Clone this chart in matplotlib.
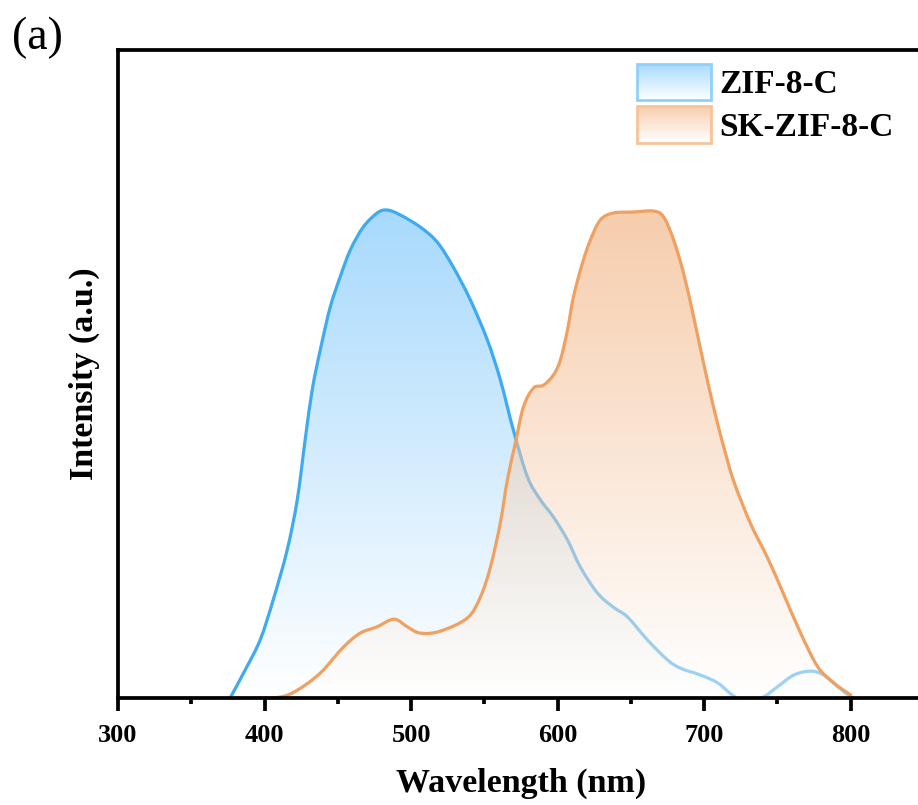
import numpy as np
import matplotlib.pyplot as plt
from matplotlib.patches import Patch, Rectangle, PathPatch
from matplotlib.path import Path
from matplotlib.legend_handler import HandlerBase
from matplotlib.ticker import MultipleLocator

# ZIF-8-C emission
zif_wl = [376.5, 386.7, 397.0, 405.9, 415.4, 422.3, 427.7, 432.5, 438.0, 444.8,
          451.6, 458.5, 467.3, 476.9, 483.7, 492.6, 506.3, 517.9, 528.8, 540.4,
          552.0, 560.9, 569.8, 579.4, 588.3, 597.1, 606.7, 615.6, 627.2, 638.1,
          647.7, 661.3, 675.0, 683.9, 697.5, 709.2, 722.8, 738.5, 750.0, 761.1,
          772.7, 781.6, 791.1, 800.0]
zif_int = [0.0, 0.057, 0.119, 0.201, 0.303, 0.406, 0.529, 0.631, 0.713, 0.801,
           0.863, 0.918, 0.965, 0.994, 1.0, 0.990, 0.965, 0.934, 0.883, 0.816,
           0.734, 0.652, 0.549, 0.453, 0.406, 0.371, 0.324, 0.268, 0.215, 0.186,
           0.166, 0.119, 0.078, 0.061, 0.047, 0.031, 0.0, 0.0, 0.023, 0.047,
           0.055, 0.047, 0.023, 0.002]

# SK-ZIF-8-C emission
sk_wl = [392.2, 410.7, 422.3, 438.0, 453.7, 465.3, 476.9, 485.8, 490.6, 497.4,
         506.3, 519.9, 538.4, 547.3, 554.1, 560.9, 565.7, 571.2, 576.6, 583.5,
         590.3, 597.1, 601.9, 606.7, 610.8, 616.9, 622.4, 629.2, 638.1, 651.8,
         665.4, 672.3, 679.1, 685.9, 692.8, 699.6, 706.4, 712.6, 720.1, 731.7,
         743.3, 754.2, 765.8, 777.5, 788.4, 800.0]
sk_int = [0.0, 0.002, 0.016, 0.051, 0.104, 0.133, 0.146, 0.160, 0.160, 0.146,
          0.133, 0.137, 0.164, 0.207, 0.268, 0.359, 0.447, 0.523, 0.596, 0.635,
          0.641, 0.662, 0.693, 0.754, 0.822, 0.891, 0.939, 0.980, 0.994, 0.996,
          0.998, 0.986, 0.939, 0.871, 0.781, 0.686, 0.596, 0.523, 0.445, 0.357,
          0.287, 0.213, 0.133, 0.064, 0.031, 0.006]

labels = ["ZIF-8-C", "SK-ZIF-8-C"]
x_ticks = [300, 400, 500, 600, 700, 800]

blue_line = "#3eaaf0"
blue_top = np.array([80, 180, 250]) / 255
orange_line = "#f0a060"
orange_top = np.array([238, 155, 90]) / 255
fill_alpha = 0.5

plt.rcParams['font.family'] = ['Liberation Serif', 'DejaVu Serif']
plt.rcParams['font.weight'] = 'bold'

fig = plt.figure(figsize=(9.18, 8.05), dpi=100)
ax = fig.add_axes([118 / 918, 107 / 805, 806 / 918, 648 / 805])


def smooth_path(x, y, closed=False):
    # spline-style connection (like Origin), built as cubic Bezier segments
    p = np.column_stack([x, y]).astype(float)
    n = len(p)
    verts = [p[0]]
    codes = [Path.MOVETO]
    for i in range(n - 1):
        p0 = p[max(i - 1, 0)]
        p1 = p[i]
        p2 = p[i + 1]
        p3 = p[min(i + 2, n - 1)]
        verts += [p1 + (p2 - p0) / 6, p2 - (p3 - p1) / 6, p2]
        codes += [Path.CURVE4] * 3
    if closed:
        verts += [[p[-1, 0], 0], [p[0, 0], 0], p[0]]
        codes += [Path.LINETO, Path.LINETO, Path.CLOSEPOLY]
    return Path(verts, codes)


def gradient_rgba(top, n=256):
    f = np.linspace(0, 1, n)[:, None]
    rgb = (1 - f) * np.ones(3) + f * top
    rgba = np.concatenate([rgb, np.full((n, 1), fill_alpha)], axis=1)
    return rgba[:, None, :]


def draw_series(x, y, top, color, z):
    im = ax.imshow(gradient_rgba(top), extent=[300, 850, 0, max(y)], origin='lower',
                   aspect='auto', zorder=z, interpolation='bilinear')
    im.set_clip_path(smooth_path(x, y, closed=True), transform=ax.transData)
    ax.add_patch(PathPatch(smooth_path(x, y), facecolor='none', edgecolor=color,
                           lw=2.3, zorder=z + 1, joinstyle='round', capstyle='round'))


draw_series(zif_wl, zif_int, blue_top, blue_line, 1)
draw_series(sk_wl, sk_int, orange_top, orange_line, 3)

ax.set_xlim(300, 850)
ax.set_ylim(0, 1.328)
ax.set_yticks([])
ax.set_xticks(x_ticks)
ax.xaxis.set_minor_locator(MultipleLocator(50))
ax.tick_params(axis='x', which='major', direction='out', length=9, width=2.7,
               labelsize=19, pad=10)
ax.tick_params(axis='x', which='minor', direction='out', length=4.5, width=2.7)
for s in ax.spines.values():
    s.set_linewidth(2.7)
    s.set_zorder(10)

ax.set_xlabel("Wavelength (nm)", fontsize=24.5, fontweight='bold', labelpad=15)
ax.set_ylabel("Intensity (a.u.)", fontsize=24.5, fontweight='bold', labelpad=13)

fig.text(12 / 918, 1 - 38 / 805, "(a)", fontsize=33, fontweight='normal',
         va='center', ha='left')


class GradientHandler(HandlerBase):
    def __init__(self, top, edge):
        super().__init__()
        self.top = top
        self.edge = edge

    def create_artists(self, legend, orig_handle, xdescent, ydescent, width, height,
                       fontsize, trans):
        arts = []
        n = 24
        for i in range(n):
            f = (i + 0.5) / n
            c = (1 - f) * np.ones(3) + f * self.top
            c = fill_alpha * c + (1 - fill_alpha)
            arts.append(Rectangle((-xdescent, -ydescent + height * i / n), width,
                                  height / n, facecolor=c, edgecolor='none',
                                  transform=trans))
        arts.append(Rectangle((-xdescent, -ydescent), width, height, facecolor='none',
                              edgecolor=self.edge, lw=2, transform=trans))
        return arts


h1 = Patch(label=labels[0])
h2 = Patch(label=labels[1])
fig.legend(handles=[h1, h2], loc='upper left',
           bbox_to_anchor=(637 / 918, 1 - 64 / 805), frameon=False,
           prop={'size': 24, 'weight': 'bold'}, borderpad=0, borderaxespad=0,
           handlelength=2.23, handleheight=1.3, handletextpad=0.24, labelspacing=0.18,
           handler_map={h1: GradientHandler(blue_top, "#8fd0fa"),
                        h2: GradientHandler(orange_top, "#f7c39a")})

fig.savefig("out.png", dpi=100)
